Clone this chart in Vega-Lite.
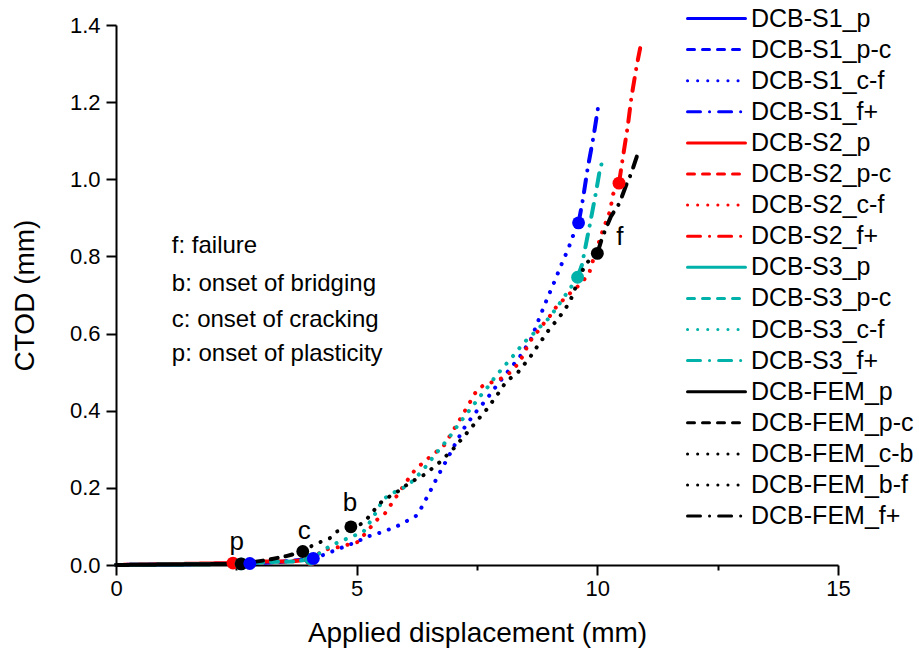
{
  "$schema": "https://vega.github.io/schema/vega-lite/v6.json",
  "width": 722,
  "height": 540,
  "autosize": {"type": "none"},
  "padding": {"left": 116, "top": 25, "right": 81, "bottom": 83},
  "background": "white",
  "config": {
    "font": "Liberation Sans",
    "view": {"stroke": null},
    "axis": {
      "grid": false,
      "domainColor": "black",
      "domainWidth": 2,
      "tickColor": "black",
      "tickWidth": 2,
      "tickSize": 10,
      "labelFont": "Liberation Sans",
      "labelFontSize": 22,
      "labelColor": "black",
      "titleFont": "Liberation Sans",
      "titleFontSize": 28,
      "titleFontWeight": "normal",
      "titleColor": "black",
      "labelOverlap": false
    }
  },
  "datasets": {
    "lines": [
      {"s": "DCB-S1_p", "x": 0, "y": 0}, {"s": "DCB-S1_p", "x": 2.78, "y": 0.004},
      {"s": "DCB-S1_p-c", "x": 2.78, "y": 0.004}, {"s": "DCB-S1_p-c", "x": 3.4, "y": 0.008}, {"s": "DCB-S1_p-c", "x": 4.1, "y": 0.017},
      {"s": "DCB-S1_c-f", "x": 4.1, "y": 0.017}, {"s": "DCB-S1_c-f", "x": 4.31, "y": 0.026}, {"s": "DCB-S1_c-f", "x": 4.65, "y": 0.043}, {"s": "DCB-S1_c-f", "x": 5.0, "y": 0.06}, {"s": "DCB-S1_c-f", "x": 5.21, "y": 0.073}, {"s": "DCB-S1_c-f", "x": 5.55, "y": 0.086}, {"s": "DCB-S1_c-f", "x": 5.9, "y": 0.104}, {"s": "DCB-S1_c-f", "x": 6.23, "y": 0.127}, {"s": "DCB-S1_c-f", "x": 6.33, "y": 0.145}, {"s": "DCB-S1_c-f", "x": 6.51, "y": 0.187}, {"s": "DCB-S1_c-f", "x": 6.68, "y": 0.229}, {"s": "DCB-S1_c-f", "x": 6.86, "y": 0.27}, {"s": "DCB-S1_c-f", "x": 7.04, "y": 0.312}, {"s": "DCB-S1_c-f", "x": 7.22, "y": 0.353}, {"s": "DCB-S1_c-f", "x": 7.44, "y": 0.391}, {"s": "DCB-S1_c-f", "x": 7.7, "y": 0.43}, {"s": "DCB-S1_c-f", "x": 7.93, "y": 0.469}, {"s": "DCB-S1_c-f", "x": 8.17, "y": 0.506}, {"s": "DCB-S1_c-f", "x": 8.39, "y": 0.54}, {"s": "DCB-S1_c-f", "x": 8.62, "y": 0.585}, {"s": "DCB-S1_c-f", "x": 8.82, "y": 0.648}, {"s": "DCB-S1_c-f", "x": 8.96, "y": 0.691}, {"s": "DCB-S1_c-f", "x": 9.11, "y": 0.735}, {"s": "DCB-S1_c-f", "x": 9.25, "y": 0.778}, {"s": "DCB-S1_c-f", "x": 9.4, "y": 0.821}, {"s": "DCB-S1_c-f", "x": 9.54, "y": 0.869}, {"s": "DCB-S1_c-f", "x": 9.61, "y": 0.887},
      {"s": "DCB-S1_f+", "x": 9.61, "y": 0.887}, {"s": "DCB-S1_f+", "x": 9.7, "y": 0.948}, {"s": "DCB-S1_f+", "x": 9.8, "y": 1.029}, {"s": "DCB-S1_f+", "x": 9.92, "y": 1.11}, {"s": "DCB-S1_f+", "x": 10.02, "y": 1.19},
      {"s": "DCB-S2_p", "x": 0, "y": 0}, {"s": "DCB-S2_p", "x": 2.43, "y": 0.005},
      {"s": "DCB-S2_p-c", "x": 2.43, "y": 0.005}, {"s": "DCB-S2_p-c", "x": 3.0, "y": 0.009}, {"s": "DCB-S2_p-c", "x": 3.6, "y": 0.009}, {"s": "DCB-S2_p-c", "x": 4.05, "y": 0.014},
      {"s": "DCB-S2_c-f", "x": 4.05, "y": 0.014}, {"s": "DCB-S2_c-f", "x": 4.31, "y": 0.039}, {"s": "DCB-S2_c-f", "x": 4.65, "y": 0.047}, {"s": "DCB-S2_c-f", "x": 5.03, "y": 0.06}, {"s": "DCB-S2_c-f", "x": 5.42, "y": 0.117}, {"s": "DCB-S2_c-f", "x": 5.59, "y": 0.134}, {"s": "DCB-S2_c-f", "x": 5.8, "y": 0.173}, {"s": "DCB-S2_c-f", "x": 6.01, "y": 0.212}, {"s": "DCB-S2_c-f", "x": 6.22, "y": 0.248}, {"s": "DCB-S2_c-f", "x": 6.52, "y": 0.28}, {"s": "DCB-S2_c-f", "x": 6.81, "y": 0.309}, {"s": "DCB-S2_c-f", "x": 7.12, "y": 0.372}, {"s": "DCB-S2_c-f", "x": 7.4, "y": 0.432}, {"s": "DCB-S2_c-f", "x": 7.5, "y": 0.454}, {"s": "DCB-S2_c-f", "x": 7.65, "y": 0.467}, {"s": "DCB-S2_c-f", "x": 7.84, "y": 0.475}, {"s": "DCB-S2_c-f", "x": 8.01, "y": 0.484}, {"s": "DCB-S2_c-f", "x": 8.19, "y": 0.499}, {"s": "DCB-S2_c-f", "x": 8.29, "y": 0.513}, {"s": "DCB-S2_c-f", "x": 8.39, "y": 0.527}, {"s": "DCB-S2_c-f", "x": 8.48, "y": 0.55}, {"s": "DCB-S2_c-f", "x": 8.58, "y": 0.575}, {"s": "DCB-S2_c-f", "x": 8.67, "y": 0.592}, {"s": "DCB-S2_c-f", "x": 8.8, "y": 0.611}, {"s": "DCB-S2_c-f", "x": 8.91, "y": 0.63}, {"s": "DCB-S2_c-f", "x": 9.03, "y": 0.648}, {"s": "DCB-S2_c-f", "x": 9.14, "y": 0.668}, {"s": "DCB-S2_c-f", "x": 9.27, "y": 0.685}, {"s": "DCB-S2_c-f", "x": 9.41, "y": 0.702}, {"s": "DCB-S2_c-f", "x": 9.55, "y": 0.717}, {"s": "DCB-S2_c-f", "x": 9.68, "y": 0.733}, {"s": "DCB-S2_c-f", "x": 9.83, "y": 0.756}, {"s": "DCB-S2_c-f", "x": 9.88, "y": 0.778}, {"s": "DCB-S2_c-f", "x": 10.12, "y": 0.87}, {"s": "DCB-S2_c-f", "x": 10.26, "y": 0.916}, {"s": "DCB-S2_c-f", "x": 10.33, "y": 0.962}, {"s": "DCB-S2_c-f", "x": 10.45, "y": 0.99},
      {"s": "DCB-S2_f+", "x": 10.45, "y": 0.99}, {"s": "DCB-S2_f+", "x": 10.53, "y": 1.056}, {"s": "DCB-S2_f+", "x": 10.63, "y": 1.136}, {"s": "DCB-S2_f+", "x": 10.71, "y": 1.214}, {"s": "DCB-S2_f+", "x": 10.82, "y": 1.296}, {"s": "DCB-S2_f+", "x": 10.89, "y": 1.34},
      {"s": "DCB-S3_p", "x": 0, "y": 0}, {"s": "DCB-S3_p", "x": 2.6, "y": 0.003},
      {"s": "DCB-S3_p-c", "x": 2.6, "y": 0.003}, {"s": "DCB-S3_p-c", "x": 3.2, "y": 0.008}, {"s": "DCB-S3_p-c", "x": 3.7, "y": 0.009}, {"s": "DCB-S3_p-c", "x": 4.05, "y": 0.015},
      {"s": "DCB-S3_c-f", "x": 4.05, "y": 0.015}, {"s": "DCB-S3_c-f", "x": 4.45, "y": 0.05}, {"s": "DCB-S3_c-f", "x": 4.83, "y": 0.07}, {"s": "DCB-S3_c-f", "x": 5.14, "y": 0.086}, {"s": "DCB-S3_c-f", "x": 5.35, "y": 0.125}, {"s": "DCB-S3_c-f", "x": 5.55, "y": 0.17}, {"s": "DCB-S3_c-f", "x": 5.73, "y": 0.186}, {"s": "DCB-S3_c-f", "x": 5.9, "y": 0.194}, {"s": "DCB-S3_c-f", "x": 6.18, "y": 0.219}, {"s": "DCB-S3_c-f", "x": 6.42, "y": 0.253}, {"s": "DCB-S3_c-f", "x": 6.66, "y": 0.291}, {"s": "DCB-S3_c-f", "x": 6.9, "y": 0.327}, {"s": "DCB-S3_c-f", "x": 7.13, "y": 0.367}, {"s": "DCB-S3_c-f", "x": 7.36, "y": 0.404}, {"s": "DCB-S3_c-f", "x": 7.6, "y": 0.443}, {"s": "DCB-S3_c-f", "x": 7.72, "y": 0.461}, {"s": "DCB-S3_c-f", "x": 7.83, "y": 0.48}, {"s": "DCB-S3_c-f", "x": 7.94, "y": 0.497}, {"s": "DCB-S3_c-f", "x": 8.07, "y": 0.516}, {"s": "DCB-S3_c-f", "x": 8.19, "y": 0.533}, {"s": "DCB-S3_c-f", "x": 8.31, "y": 0.551}, {"s": "DCB-S3_c-f", "x": 8.43, "y": 0.57}, {"s": "DCB-S3_c-f", "x": 8.55, "y": 0.586}, {"s": "DCB-S3_c-f", "x": 8.69, "y": 0.602}, {"s": "DCB-S3_c-f", "x": 8.83, "y": 0.62}, {"s": "DCB-S3_c-f", "x": 8.97, "y": 0.637}, {"s": "DCB-S3_c-f", "x": 9.09, "y": 0.656}, {"s": "DCB-S3_c-f", "x": 9.2, "y": 0.675}, {"s": "DCB-S3_c-f", "x": 9.31, "y": 0.695}, {"s": "DCB-S3_c-f", "x": 9.42, "y": 0.714}, {"s": "DCB-S3_c-f", "x": 9.59, "y": 0.746},
      {"s": "DCB-S3_f+", "x": 9.59, "y": 0.746}, {"s": "DCB-S3_f+", "x": 9.68, "y": 0.778}, {"s": "DCB-S3_f+", "x": 9.85, "y": 0.886}, {"s": "DCB-S3_f+", "x": 9.97, "y": 0.965}, {"s": "DCB-S3_f+", "x": 10.04, "y": 1.016}, {"s": "DCB-S3_f+", "x": 10.1, "y": 1.046},
      {"s": "DCB-FEM_p", "x": 0, "y": 0}, {"s": "DCB-FEM_p", "x": 2.6, "y": 0.003},
      {"s": "DCB-FEM_p-c", "x": 2.6, "y": 0.003}, {"s": "DCB-FEM_p-c", "x": 3.14, "y": 0.013}, {"s": "DCB-FEM_p-c", "x": 3.54, "y": 0.023}, {"s": "DCB-FEM_p-c", "x": 3.88, "y": 0.035},
      {"s": "DCB-FEM_c-b", "x": 3.88, "y": 0.035}, {"s": "DCB-FEM_c-b", "x": 4.1, "y": 0.052}, {"s": "DCB-FEM_c-b", "x": 4.45, "y": 0.07}, {"s": "DCB-FEM_c-b", "x": 4.59, "y": 0.087}, {"s": "DCB-FEM_c-b", "x": 4.88, "y": 0.099},
      {"s": "DCB-FEM_b-f", "x": 4.88, "y": 0.099}, {"s": "DCB-FEM_b-f", "x": 5.14, "y": 0.108}, {"s": "DCB-FEM_b-f", "x": 5.42, "y": 0.151}, {"s": "DCB-FEM_b-f", "x": 5.55, "y": 0.168}, {"s": "DCB-FEM_b-f", "x": 5.8, "y": 0.186}, {"s": "DCB-FEM_b-f", "x": 6.11, "y": 0.214}, {"s": "DCB-FEM_b-f", "x": 6.42, "y": 0.235}, {"s": "DCB-FEM_b-f", "x": 6.73, "y": 0.267}, {"s": "DCB-FEM_b-f", "x": 7.0, "y": 0.3}, {"s": "DCB-FEM_b-f", "x": 7.26, "y": 0.338}, {"s": "DCB-FEM_b-f", "x": 7.5, "y": 0.374}, {"s": "DCB-FEM_b-f", "x": 7.76, "y": 0.412}, {"s": "DCB-FEM_b-f", "x": 7.86, "y": 0.432}, {"s": "DCB-FEM_b-f", "x": 7.98, "y": 0.451}, {"s": "DCB-FEM_b-f", "x": 8.08, "y": 0.471}, {"s": "DCB-FEM_b-f", "x": 8.22, "y": 0.487}, {"s": "DCB-FEM_b-f", "x": 8.36, "y": 0.501}, {"s": "DCB-FEM_b-f", "x": 8.48, "y": 0.52}, {"s": "DCB-FEM_b-f", "x": 8.6, "y": 0.538}, {"s": "DCB-FEM_b-f", "x": 8.71, "y": 0.56}, {"s": "DCB-FEM_b-f", "x": 8.81, "y": 0.575}, {"s": "DCB-FEM_b-f", "x": 8.91, "y": 0.596}, {"s": "DCB-FEM_b-f", "x": 9.04, "y": 0.617}, {"s": "DCB-FEM_b-f", "x": 9.16, "y": 0.635}, {"s": "DCB-FEM_b-f", "x": 9.29, "y": 0.656}, {"s": "DCB-FEM_b-f", "x": 9.39, "y": 0.675}, {"s": "DCB-FEM_b-f", "x": 9.48, "y": 0.697}, {"s": "DCB-FEM_b-f", "x": 9.57, "y": 0.727}, {"s": "DCB-FEM_b-f", "x": 9.75, "y": 0.78}, {"s": "DCB-FEM_b-f", "x": 10.0, "y": 0.808},
      {"s": "DCB-FEM_f+", "x": 10.0, "y": 0.808}, {"s": "DCB-FEM_f+", "x": 10.08, "y": 0.84}, {"s": "DCB-FEM_f+", "x": 10.16, "y": 0.867}, {"s": "DCB-FEM_f+", "x": 10.28, "y": 0.903}, {"s": "DCB-FEM_f+", "x": 10.46, "y": 0.938}, {"s": "DCB-FEM_f+", "x": 10.6, "y": 0.985}, {"s": "DCB-FEM_f+", "x": 10.7, "y": 1.014}, {"s": "DCB-FEM_f+", "x": 10.82, "y": 1.059}
    ],
    "markers": [
      {"s": "DCB-S2_p", "x": 2.43, "y": 0.005}, {"s": "DCB-S2_c-f", "x": 4.05, "y": 0.014}, {"s": "DCB-S2_f+", "x": 10.45, "y": 0.99},
      {"s": "DCB-S3_p", "x": 2.6, "y": 0.003}, {"s": "DCB-S3_c-f", "x": 4.05, "y": 0.015}, {"s": "DCB-S3_f+", "x": 9.59, "y": 0.746},
      {"s": "DCB-FEM_p", "x": 2.6, "y": 0.003}, {"s": "DCB-FEM_c-b", "x": 3.88, "y": 0.035}, {"s": "DCB-FEM_b-f", "x": 4.88, "y": 0.099}, {"s": "DCB-FEM_f+", "x": 10.0, "y": 0.808},
      {"s": "DCB-S1_p", "x": 2.78, "y": 0.004}, {"s": "DCB-S1_c-f", "x": 4.1, "y": 0.017}, {"s": "DCB-S1_f+", "x": 9.61, "y": 0.887}
    ],
    "letters": [
      {"t": "p", "x": 2.51, "y": 0.04},
      {"t": "c", "x": 3.91, "y": 0.067},
      {"t": "b", "x": 4.86, "y": 0.14},
      {"t": "f", "x": 10.47, "y": 0.83}
    ],
    "notes": [
      {"t": "f: failure", "x": 1.16, "y": 0.808},
      {"t": "b: onset of bridging", "x": 1.16, "y": 0.711},
      {"t": "c: onset of cracking", "x": 1.16, "y": 0.617},
      {"t": "p: onset of plasticity", "x": 1.16, "y": 0.529}
    ]
  },
  "layer": [
    {
      "data": {"name": "lines"},
      "mark": {"type": "line", "strokeWidth": 4, "strokeCap": "round"},
      "encoding": {
        "x": {
          "field": "x", "type": "quantitative",
          "scale": {"domain": [0, 15], "nice": false, "zero": false},
          "axis": {
            "title": "Applied displacement (mm)",
            "values": [0, 2.5, 5, 7.5, 10, 12.5, 15],
            "labelExpr": "datum.value % 5 == 0 ? datum.label : ''",
            "tickSize": {"condition": {"test": "datum.value % 5 != 0", "value": 5}, "value": 10},
            "labelPadding": 3,
            "titlePadding": 20,
            "labelFlush": false
          }
        },
        "y": {
          "field": "y", "type": "quantitative",
          "scale": {"domain": [0, 1.4], "nice": false},
          "axis": {
            "title": "CTOD (mm)",
            "values": [0, 0.2, 0.4, 0.6, 0.8, 1.0, 1.2, 1.4],
            "format": ".1f",
            "labelPadding": 6,
            "titlePadding": 30,
            "labelFlush": false
          }
        },
        "color": {
          "field": "s", "type": "nominal",
          "scale": {
            "domain": ["DCB-S1_p", "DCB-S1_p-c", "DCB-S1_c-f", "DCB-S1_f+", "DCB-S2_p", "DCB-S2_p-c", "DCB-S2_c-f", "DCB-S2_f+", "DCB-S3_p", "DCB-S3_p-c", "DCB-S3_c-f", "DCB-S3_f+", "DCB-FEM_p", "DCB-FEM_p-c", "DCB-FEM_c-b", "DCB-FEM_b-f", "DCB-FEM_f+"],
            "range": ["#0000ff", "#0000ff", "#0000ff", "#0000ff", "#ff0000", "#ff0000", "#ff0000", "#ff0000", "#00b2a9", "#00b2a9", "#00b2a9", "#00b2a9", "#000000", "#000000", "#000000", "#000000", "#000000"]
          },
          "legend": {
            "title": null,
            "orient": "none",
            "legendX": 570,
            "legendY": -22,
            "padding": 0,
            "symbolType": "stroke",
            "symbolSize": 3364,
            "symbolStrokeWidth": 3,
            "clipHeight": 31,
            "rowPadding": 0.1,
            "labelFontSize": 25,
            "labelFont": "Liberation Sans",
            "labelColor": "black",
            "labelOffset": 4,
            "labelLimit": 300,
            "encode": {
              "symbols": {
                "update": {
                  "strokeCap": {"value": "round"},
                  "strokeDash": {"signal": "indexof(datum.value, '_c-') >= 0 || indexof(datum.value, '_b-') >= 0 ? [0.1, 8.3] : (indexof(datum.value, 'f+') >= 0 ? [12, 9, 0.1, 9] : (indexof(datum.value, 'p-c') >= 0 ? [7, 7] : [1, 0]))"}
                }
              }
            }
          }
        },
        "strokeDash": {
          "field": "s", "type": "nominal",
          "scale": {
            "domain": ["DCB-S1_p", "DCB-S1_p-c", "DCB-S1_c-f", "DCB-S1_f+", "DCB-S2_p", "DCB-S2_p-c", "DCB-S2_c-f", "DCB-S2_f+", "DCB-S3_p", "DCB-S3_p-c", "DCB-S3_c-f", "DCB-S3_f+", "DCB-FEM_p", "DCB-FEM_p-c", "DCB-FEM_c-b", "DCB-FEM_b-f", "DCB-FEM_f+"],
            "range": [[1, 0], [7, 8], [0.1, 10], [13, 9, 0.1, 9], [1, 0], [7, 8], [0.1, 10], [13, 9, 0.1, 9], [1, 0], [7, 8], [0.1, 10], [13, 9, 0.1, 9], [1, 0], [7, 8], [0.1, 10], [0.1, 10], [13, 9, 0.1, 9]]
          },
          "legend": null
        }
      }
    },
    {
      "data": {"name": "markers"},
      "mark": {"type": "point", "shape": "circle", "filled": true, "size": 165, "opacity": 1, "strokeWidth": 0},
      "encoding": {
        "x": {"field": "x", "type": "quantitative"},
        "y": {"field": "y", "type": "quantitative"},
        "color": {"field": "s", "type": "nominal", "legend": null}
      }
    },
    {
      "data": {"name": "letters"},
      "mark": {"type": "text", "fontSize": 26, "align": "center", "baseline": "alphabetic", "color": "black", "font": "Liberation Sans"},
      "encoding": {
        "x": {"field": "x", "type": "quantitative"},
        "y": {"field": "y", "type": "quantitative"},
        "text": {"field": "t"}
      }
    },
    {
      "data": {"name": "notes"},
      "mark": {"type": "text", "fontSize": 24, "align": "left", "baseline": "alphabetic", "color": "black", "font": "Liberation Sans"},
      "encoding": {
        "x": {"field": "x", "type": "quantitative"},
        "y": {"field": "y", "type": "quantitative"},
        "text": {"field": "t"}
      }
    }
  ]
}
